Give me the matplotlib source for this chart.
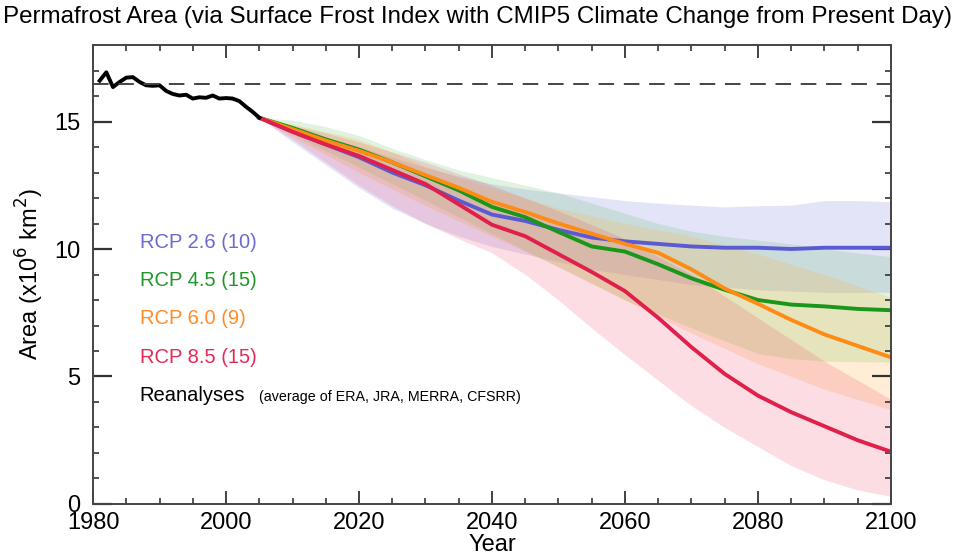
import numpy as np
import matplotlib.pyplot as plt

# reanalisis (promedio ERA, JRA, MERRA, CFSRR)
anios_rean = np.arange(1981, 2006)
rean = [16.6, 16.93, 16.35, 16.55, 16.72, 16.74, 16.55, 16.42, 16.4, 16.42,
        16.2, 16.08, 16.02, 16.05, 15.9, 15.95, 15.93, 16.02, 15.9, 15.92,
        15.9, 15.8, 15.58, 15.38, 15.15]

# escenarios cada 5 anios
anios = np.arange(2005, 2101, 5)

rcp26 = [15.15, 14.6, 14.1, 13.6, 13.0, 12.5, 11.9, 11.35, 11.1, 10.75,
         10.45, 10.3, 10.2, 10.1, 10.05, 10.05, 10.0, 10.05, 10.05, 10.05]
rcp26_max = [15.15, 14.8, 14.4, 14.0, 13.6, 13.2, 12.85, 12.55, 12.35, 12.2,
             12.05, 11.9, 11.8, 11.72, 11.65, 11.7, 11.72, 11.9, 11.9, 11.85]
rcp26_min = [15.15, 14.2, 13.3, 12.4, 11.6, 11.0, 10.5, 10.1, 9.8, 9.5,
             9.2, 9.0, 8.8, 8.6, 8.5, 8.4, 8.35, 8.3, 8.3, 8.3]

rcp45 = [15.15, 14.75, 14.3, 13.9, 13.4, 12.85, 12.3, 11.65, 11.25, 10.67,
         10.1, 9.9, 9.4, 8.85, 8.4, 8.0, 7.82, 7.75, 7.65, 7.6]
rcp45_max = [15.15, 15.05, 14.8, 14.45, 13.95, 13.5, 13.1, 12.8, 12.5, 12.2,
             11.8, 11.4, 11.0, 10.7, 10.5, 10.35, 10.2, 10.0, 9.85, 9.7]
rcp45_min = [15.15, 14.5, 13.85, 13.2, 12.55, 11.9, 11.25, 10.6, 9.95, 9.3,
             8.65, 8.0, 7.45, 6.9, 6.4, 5.9, 5.7, 5.6, 5.58, 5.57]

rcp60 = [15.15, 14.7, 14.25, 13.85, 13.4, 12.9, 12.4, 11.85, 11.45, 11.0,
         10.6, 10.2, 9.85, 9.2, 8.45, 7.85, 7.22, 6.65, 6.2, 5.75]
rcp60_max = [15.15, 14.9, 14.6, 14.3, 13.8, 13.25, 12.8, 12.4, 12.0, 11.6,
             11.3, 11.0, 10.75, 10.5, 10.15, 9.8, 9.4, 9.0, 8.55, 8.1]
rcp60_min = [15.15, 14.4, 13.7, 13.0, 12.35, 11.7, 11.1, 10.5, 9.9, 9.3,
             8.65, 8.0, 7.35, 6.7, 6.1, 5.5, 5.0, 4.5, 4.1, 3.7]

rcp85 = [15.15, 14.6, 14.1, 13.65, 13.1, 12.55, 11.75, 10.95, 10.5, 9.8,
         9.1, 8.35, 7.3, 6.15, 5.1, 4.25, 3.6, 3.05, 2.5, 2.05]
rcp85_max = [15.15, 14.85, 14.55, 14.2, 13.8, 13.4, 12.95, 12.5, 12.0, 11.5,
             10.95, 10.4, 9.7, 9.0, 8.15, 7.3, 6.45, 5.6, 4.85, 4.1]
rcp85_min = [15.15, 14.3, 13.4, 12.5, 11.7, 11.0, 10.4, 9.85, 9.0, 8.0,
             6.9, 5.85, 4.85, 3.85, 3.0, 2.25, 1.5, 0.95, 0.55, 0.3]

etiquetas = ['RCP 2.6 (10)', 'RCP 4.5 (15)', 'RCP 6.0 (9)', 'RCP 8.5 (15)']
col_linea = ['#5a5ad2', '#1a961a', '#ff8a14', '#e0204a']
col_texto = ['#6a6ad0', '#20962a', '#ff8c28', '#e42a55']
col_banda = ['#6a6ae0', '#30b030', '#ffb040', '#f03a60']
alfa = [0.18, 0.15, 0.22, 0.17]

plt.rcParams['font.family'] = ['Liberation Sans', 'DejaVu Sans']

fig = plt.figure(figsize=(9.75, 5.55), dpi=100)
ax = fig.add_axes([0.0954, 0.0919, 0.8184, 0.827])

medias = [rcp26, rcp45, rcp60, rcp85]
maximos = [rcp26_max, rcp45_max, rcp60_max, rcp85_max]
minimos = [rcp26_min, rcp45_min, rcp60_min, rcp85_min]

for i in range(4):
    ax.fill_between(anios, minimos[i], maximos[i], color=col_banda[i],
                    alpha=alfa[i], lw=0)
for i in range(4):
    ax.plot(anios, medias[i], color=col_linea[i], lw=2.8)

ax.plot(anios_rean, rean, color='black', lw=2.8)
ax.axhline(16.47, color='#444444', lw=1.4, dashes=(8, 5))

# textos de la leyenda
ys = [10.27, 8.77, 7.29, 5.76]
for i in range(4):
    ax.text(1987, ys[i], etiquetas[i], color=col_texto[i], fontsize=14.5,
            va='center')
ax.text(1987, 4.27, 'Reanalyses', color='black', fontsize=14.5, va='center')
ax.text(2005, 4.2, '(average of ERA, JRA, MERRA, CFSRR)', color='black',
        fontsize=10.3, va='center')

ax.set_xlim(1980, 2100)
ax.set_ylim(0, 18)
ax.set_xticks([1980, 2000, 2020, 2040, 2060, 2080, 2100])
ax.set_xticks(np.arange(1980, 2101, 5), minor=True)
ax.set_yticks([0, 5, 10, 15])
ax.set_yticks(np.arange(0, 18, 1), minor=True)

ax.tick_params(axis='both', which='both', direction='in', top=True,
               right=True, color='#333333', labelsize=17)
ax.tick_params(axis='x', which='major', length=9.5, width=1.3, pad=6)
ax.tick_params(axis='y', which='major', length=13.5, width=1.6, pad=9)
ax.tick_params(axis='both', which='minor', length=4.5, width=1.2)
for s in ax.spines.values():
    s.set_color('#444444')
    s.set_linewidth(1.4)

ax.set_xlabel('Year', fontsize=17, labelpad=0)
ax.set_ylabel('Area (x10$^6$ km$^2$)', fontsize=17, labelpad=6)
fig.suptitle('Permafrost Area (via Surface Frost Index with CMIP5 Climate '
             'Change from Present Day)', fontsize=17.4, x=0.49, y=0.99)

fig.savefig('out.png', dpi=100)
